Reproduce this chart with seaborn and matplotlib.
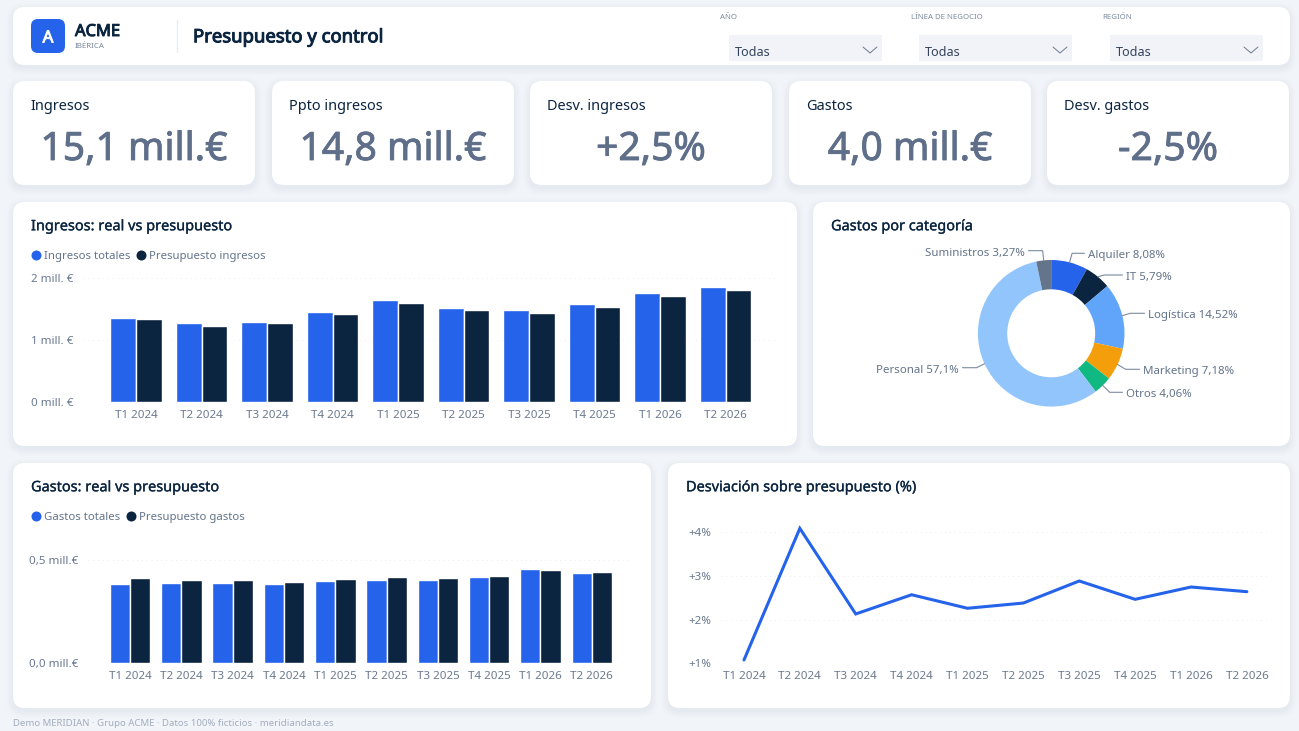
"""Presupuesto y control dashboard rebuilt with seaborn."""

import matplotlib
matplotlib.use("Agg")
import matplotlib.patheffects as pe
import matplotlib.pyplot as plt
import numpy as np
import pandas as pd
import seaborn as sns
from matplotlib.patches import FancyBboxPatch

W, H = 1299, 731

PERIODS = ["T1 2024", "T2 2024", "T3 2024", "T4 2024", "T1 2025",
           "T2 2025", "T3 2025", "T4 2025", "T1 2026", "T2 2026"]

INGRESOS_REAL = [1.345, 1.265, 1.29, 1.452, 1.64, 1.52, 1.474, 1.57, 1.757, 1.844]
INGRESOS_PPTO = [1.33, 1.217, 1.265, 1.415, 1.60, 1.485, 1.436, 1.532, 1.71, 1.796]
GASTOS_REAL = [0.384, 0.387, 0.389, 0.384, 0.400, 0.403, 0.402, 0.419, 0.455, 0.436]
GASTOS_PPTO = [0.411, 0.403, 0.402, 0.392, 0.410, 0.416, 0.411, 0.424, 0.452, 0.442]
DESVIACION = [1.076, 4.09, 2.13, 2.57, 2.26, 2.38, 2.885, 2.465, 2.747, 2.64]

CATEGORIAS = ["Alquiler", "IT", "Logística", "Marketing", "Otros", "Personal", "Suministros"]
CATEGORIA_PCT = [8.08, 5.79, 14.52, 7.18, 4.06, 57.1, 3.27]
CATEGORIA_TXT = ["8,08%", "5,79%", "14,52%", "7,18%", "4,06%", "57,1%", "3,27%"]

KPI_LABELS = ["Ingresos", "Ppto ingresos", "Desv. ingresos", "Gastos", "Desv. gastos"]
KPI_VALUES = ["15,1 mill.€", "14,8 mill.€", "+2,5%", "4,0 mill.€", "-2,5%"]

FILTER_LABELS = ["AÑO", "LÍNEA DE NEGOCIO", "REGIÓN"]

BLUE = "#2563EB"
NAVY = "#0B2540"
SLATE = "#64748B"
DONUT_COLORS = [BLUE, NAVY, "#60A5FA", "#F59E0B", "#10B981", "#93C5FD", "#64748B"]

# pie label layout, in figure pixels
LABEL_X = [1088, 1126, 1148, 1143, 1126, 959, 1025]
LEADER_Y = [253.3, 275, 313.3, 369.3, 392.3, 367.7, 250.7]

sns.set_theme(style="white")
plt.rcParams["font.family"] = ["Noto Sans", "DejaVu Sans"]


def px(size):
    """Font size in points for a size in pixels at dpi 100."""
    return size * 0.72


def heavy(width):
    """The installed family only draws one weight, thicken it with a stroke."""
    return [pe.Stroke(linewidth=width), pe.Normal()]


def px_axes(fig, left, top, right, bottom):
    ax = fig.add_axes([left / W, 1 - bottom / H, (right - left) / W, (bottom - top) / H])
    ax.patch.set_alpha(0)
    return ax


def card(ax, x0, y0, x1, y1, radius=12):
    # soft shadow made of a few stacked translucent boxes
    for grow, alpha in [(7, 0.05), (5, 0.06), (3, 0.08), (1, 0.10)]:
        ax.add_patch(FancyBboxPatch(
            (x0 + radius - grow, y0 + radius + 3 - grow),
            x1 - x0 - 2 * radius + 2 * grow, y1 - y0 - 2 * radius + 2 * grow,
            boxstyle=f"round,pad={radius},rounding_size={radius + grow}",
            fc="#CBD3E0", ec="none", alpha=alpha))
    ax.add_patch(FancyBboxPatch(
        (x0 + radius, y0 + radius), x1 - x0 - 2 * radius, y1 - y0 - 2 * radius,
        boxstyle=f"round,pad={radius},rounding_size={radius}", fc="white", ec="none"))


def legend(ax, x_dot, y, x_text, label, color):
    ax.scatter([x_dot], [y], s=52, color=color, linewidths=0, zorder=5)
    ax.text(x_text, y + 4.3, label, fontsize=px(11.4), color=SLATE, va="baseline")


def style_axes(ax, ticks, tick_labels, ylim, xlim):
    ax.set_xlim(*xlim)
    ax.set_ylim(*ylim)
    ax.set_yticks(ticks)
    ax.set_yticklabels(tick_labels)
    ax.set_xlabel("")
    ax.set_ylabel("")
    ax.tick_params(axis="both", length=0, labelsize=px(11.6), labelcolor="#6B7A90")
    ax.tick_params(axis="y", pad=7)
    ax.tick_params(axis="x", pad=5.5)
    ax.grid(axis="y", color="#E9EDF3", linestyle=(0, (1, 4)), linewidth=0.7)
    ax.set_axisbelow(True)
    sns.despine(ax=ax, left=True, bottom=True)


def bar_chart(ax, real, ppto, names, ticks, tick_labels, ylim, xlim):
    data = pd.DataFrame({"periodo": PERIODS, names[0]: real, names[1]: ppto})
    data = data.melt(id_vars="periodo", var_name="serie", value_name="valor")
    sns.barplot(data=data, x="periodo", y="valor", hue="serie", ax=ax, order=PERIODS,
                palette=[BLUE, NAVY], width=0.79, gap=0, saturation=1, legend=False)
    style_axes(ax, ticks, tick_labels, ylim, xlim)


fig = plt.figure(figsize=(W / 100, H / 100), dpi=100, facecolor="#F1F4F9")
bg = fig.add_axes([0, 0, 1, 1])
bg.set_xlim(0, W)
bg.set_ylim(H, 0)
bg.axis("off")

# header
card(bg, 13, 7, 1290, 65)
bg.add_patch(FancyBboxPatch((37, 25), 22, 22, boxstyle="round,pad=6,rounding_size=7", fc=BLUE, ec="none"))
bg.text(48, 42.5, "A", color="white", fontsize=px(17), va="baseline", ha="center", path_effects=heavy(0.6))
bg.text(75, 36, "ACME", color=NAVY, fontsize=px(16.5), va="baseline", path_effects=heavy(0.7))
bg.text(75, 48.3, "IBÉRICA", color="#7C8AA0", fontsize=px(8), va="baseline")
bg.plot([177, 177], [20, 52], color="#E8ECF2", lw=1)
bg.text(193, 42.3, "Presupuesto y control", color=NAVY, fontsize=px(18.5), va="baseline", path_effects=heavy(0.7))

for label, x_label, x_box in zip(FILTER_LABELS, [720, 911, 1102], [729, 919, 1110]):
    bg.text(x_label, 19.3, label, color="#7C8AA0", fontsize=px(7.8), va="baseline")
    bg.fill_between([x_box, x_box + 153], 35, 60.5, color="#F1F3F8", lw=0)
    bg.text(x_box + 6, 56, "Todas", color="#33435C", fontsize=px(12.6), va="baseline")
    bg.plot([x_box + 134, x_box + 141, x_box + 148], [47, 53, 47], color="#6B7A90", lw=0.7)

# kpi cards
for label, value, x0 in zip(KPI_LABELS, KPI_VALUES, [13, 272, 530, 789, 1047]):
    card(bg, x0, 81, x0 + 242, 185)
    bg.text(x0 + 17.5, 110.5, label, color=NAVY, fontsize=px(14.5), va="baseline")
    bg.text(x0 + 121, 160, value, color="#5F6F8A", fontsize=px(39),
            ha="center", va="baseline", path_effects=heavy(0.6))

# chart cards
card(bg, 13, 202, 797, 446)
card(bg, 813, 202, 1290, 446)
card(bg, 13, 463, 651, 708)
card(bg, 668, 463, 1290, 708)

for x, y, title in [(31, 230.3, "Ingresos: real vs presupuesto"), (831, 230.3, "Gastos por categoría"),
                    (31, 491.3, "Gastos: real vs presupuesto"), (686, 491.3, "Desviación sobre presupuesto (%)")]:
    bg.text(x, y, title, color=NAVY, fontsize=px(14.5), va="baseline", path_effects=heavy(0.2))

legend(bg, 36.5, 255, 44, "Ingresos totales", BLUE)
legend(bg, 141, 255, 149, "Presupuesto ingresos", NAVY)
legend(bg, 36.5, 516, 44, "Gastos totales", BLUE)
legend(bg, 131.5, 516, 139.5, "Presupuesto gastos", NAVY)

bg.text(13, 726, "Demo MERIDIAN · Grupo ACME · Datos 100% ficticios · meridiandata.es",
        color="#A3AEBD", fontsize=px(9.6), va="baseline")

# ingresos
ax_ing = px_axes(fig, 83, 277.7, 775, 402)
bar_chart(ax_ing, INGRESOS_REAL, INGRESOS_PPTO, ["Ingresos totales", "Presupuesto ingresos"],
          [0, 1, 2], ["0 mill. €", "1 mill. €", "2 mill. €"], (0, 2), (-0.81, 9.755))

# gastos
ax_gas = px_axes(fig, 88, 560, 630, 663.3)
bar_chart(ax_gas, GASTOS_REAL, GASTOS_PPTO, ["Gastos totales", "Presupuesto gastos"],
          [0, 0.5], ["0,0 mill.€", "0,5 mill.€"], (0, 0.5), (-0.82, 9.745))

# desviacion
ax_dev = px_axes(fig, 721.4, 532.3, 1267, 663.3)
dev = pd.DataFrame({"periodo": PERIODS, "desviacion": DESVIACION})
sns.lineplot(data=dev, x="periodo", y="desviacion", ax=ax_dev, color=BLUE, linewidth=2.2,
             sort=False, clip_on=False, solid_joinstyle="miter")
style_axes(ax_dev, [1, 2, 3, 4], ["+1%", "+2%", "+3%", "+4%"], (1, 4), (-0.404, 9.36))

# donut
CX, CY, R = 1051.2, 333.3, 73.3
ax_pie = px_axes(fig, CX - R, CY - R, CX + R, CY + R)
ax_pie.pie(CATEGORIA_PCT, colors=DONUT_COLORS, startangle=90, counterclock=False, radius=1,
           wedgeprops={"width": 0.4, "linewidth": 0})
ax_pie.set_xlim(-1, 1)
ax_pie.set_ylim(-1, 1)

edges = np.cumsum(CATEGORIA_PCT)
for name, txt, pct, edge, lx, ly in zip(CATEGORIAS, CATEGORIA_TXT, CATEGORIA_PCT, edges, LABEL_X, LEADER_Y):
    angle = np.deg2rad((edge - pct / 2) * 3.6)
    ux, uy = np.sin(angle), np.cos(angle)
    side = 1 if ux > 0 else -1
    elbow_x = ux + side * min(abs(ux) * 10, 8) / R
    elbow_y = (CY - ly) / R
    end_x = (lx - CX) / R - side * 3.5 / R
    ax_pie.plot([ux, elbow_x, end_x], [uy, elbow_y, elbow_y], color="#7C8AA0", lw=0.8, clip_on=False)
    ax_pie.text((lx - CX) / R, elbow_y - 5 / R, f"{name} {txt}", color=SLATE, fontsize=px(11.5),
                ha="left" if ux > 0 else "right", va="baseline", clip_on=False)

fig.savefig("out.png", dpi=100, facecolor=fig.get_facecolor())
